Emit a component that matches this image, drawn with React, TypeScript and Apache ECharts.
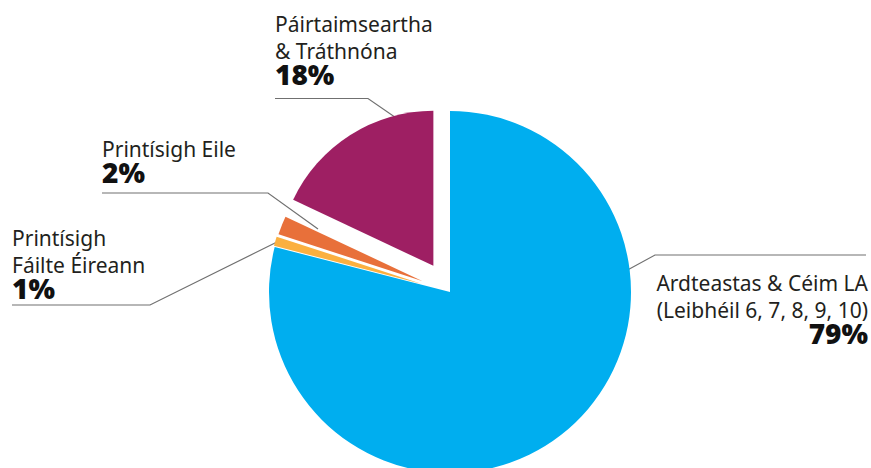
import React, { useEffect, useRef } from "react";
import * as echarts from "echarts";

const categories = [
  "Ardteastas & Céim LA\n(Leibhéil 6, 7, 8, 9, 10)",
  "Printísigh\nFáilte Éireann",
  "Printísigh Eile",
  "Páirtaimseartha\n& Tráthnóna",
];
const values = [79, 1, 2, 18];
const colors = ["#00AEEF", "#FBB040", "#E8703A", "#9E1F63"];

// per-slice radius and explode distance (layout)
const sliceRadius = [181, 152, 151, 155];
const sliceExplode = [0, 30, 30, 31];
const CENTER = [450, 292];

// label anchor + leader line layout (annotation layout, not data)
const labelPlacement = [
  { x: 868, y: 269, align: "right", line: [[622, 273], [655, 255], [866, 255]] },
  { x: 12, y: 224, align: "left", line: [[277, 242], [150, 305], [12, 305]] },
  { x: 102, y: 135, align: "left", line: [[318, 229], [268, 193], [102, 193]] },
  { x: 275, y: 10, align: "left", line: [[418, 133], [368, 98.5], [275, 98.5]] },
];

const FONT = "'Noto Sans', sans-serif";

function sliceCenter(i: number) {
  const total = values.reduce((a, b) => a + b, 0);
  const before = values.slice(0, i).reduce((a, b) => a + b, 0);
  const mid = ((90 - (360 * (before + values[i] / 2)) / total) * Math.PI) / 180;
  return [CENTER[0] + sliceExplode[i] * Math.cos(mid), CENTER[1] - sliceExplode[i] * Math.sin(mid)];
}

function buildData(seriesIdx: number) {
  return categories.map((name, i) => {
    const mine = i === seriesIdx;
    return {
      name,
      value: values[i],
      itemStyle: { color: mine ? colors[i] : "rgba(0,0,0,0)" },
      label: { show: mine },
      labelLine: { show: mine },
    };
  });
}

export default function App() {
  const ref = useRef<HTMLDivElement>(null);
  useEffect(() => {
    document.body.style.margin = "0";
    const chart = echarts.init(ref.current!, null, { renderer: "svg" });
    const commonLabel = {
      position: "outside",
      formatter: (p: any) => `{name|${p.name}}\n{pct|${p.value}%}`,
      rich: {
        name: { fontFamily: FONT, fontSize: 21, lineHeight: 27, color: "#231F20" },
        pct: { fontFamily: FONT, fontSize: 28, fontWeight: 900, lineHeight: 20, color: "#111" },
      },
    };
    const labelLayout = (params: any) => {
      const pl = labelPlacement[params.dataIndex];
      return {
        x: pl.x,
        y: pl.y,
        align: pl.align,
        verticalAlign: "top",
        labelLinePoints: pl.line,
      };
    };
    chart.setOption({
      animation: false,
      tooltip: { show: false },
      series: categories.map((_, i) => ({
        type: "pie",
        center: sliceCenter(i),
        radius: [0, sliceRadius[i]],
        startAngle: 90,
        clockwise: true,
        silent: true,
        emphasis: { disabled: true },
        avoidLabelOverlap: false,
        label: commonLabel,
        labelLine: { show: true, lineStyle: { color: "#707070", width: 1.2 } },
        labelLayout,
        data: buildData(i),
      })),
    });
    return () => chart.dispose();
  }, []);
  return <div ref={ref} style={{ width: 871, height: 468 }} />;
}
